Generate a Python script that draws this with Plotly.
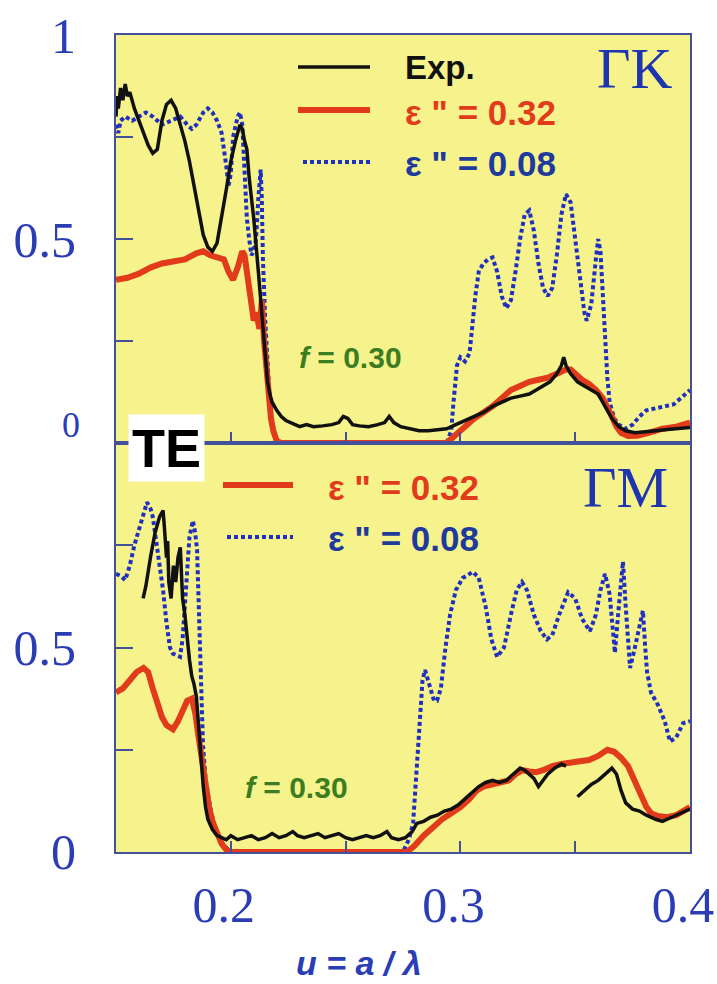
import plotly.graph_objects as go

# ---------------- data ----------------
# Panel ΓK (top)
gk_exp_x = [0.150, 0.1505, 0.151, 0.152, 0.153, 0.154, 0.155, 0.156, 0.158, 0.160, 0.162, 0.164,
            0.166, 0.168, 0.170, 0.172, 0.174, 0.176, 0.178, 0.180, 0.182, 0.184, 0.186, 0.188,
            0.190, 0.192, 0.194, 0.196, 0.198, 0.200, 0.202, 0.204, 0.205, 0.206, 0.207, 0.208,
            0.210, 0.212, 0.214, 0.215, 0.216, 0.217, 0.218, 0.220, 0.222, 0.224, 0.226, 0.228,
            0.230, 0.233, 0.236, 0.240, 0.244, 0.247, 0.249, 0.251, 0.253, 0.256, 0.260, 0.264,
            0.267, 0.269, 0.271, 0.274, 0.278, 0.282, 0.286, 0.290, 0.294, 0.298, 0.302, 0.306,
            0.310, 0.314, 0.318, 0.322, 0.326, 0.330, 0.333, 0.336, 0.339, 0.342, 0.344, 0.345,
            0.346, 0.348, 0.351, 0.354, 0.357, 0.360, 0.363, 0.366, 0.369, 0.372, 0.376, 0.380,
            0.385, 0.390, 0.395, 0.400]
gk_exp_y = [0.80, 0.85, 0.82, 0.87, 0.84, 0.88, 0.85, 0.86, 0.82, 0.79, 0.76, 0.73,
            0.71, 0.72, 0.79, 0.83, 0.84, 0.82, 0.78, 0.74, 0.69, 0.63, 0.57, 0.51,
            0.48, 0.47, 0.49, 0.55, 0.62, 0.69, 0.74, 0.78, 0.77, 0.74, 0.72, 0.65,
            0.55, 0.42, 0.28, 0.20, 0.15, 0.12, 0.10, 0.08, 0.065, 0.055, 0.05, 0.045,
            0.04, 0.045, 0.04, 0.042, 0.045, 0.05, 0.065, 0.06, 0.045, 0.042, 0.04, 0.045,
            0.05, 0.065, 0.05, 0.04, 0.035, 0.03, 0.03, 0.032, 0.035, 0.045, 0.055, 0.065,
            0.075, 0.09, 0.10, 0.11, 0.115, 0.12, 0.13, 0.14, 0.15, 0.17, 0.19, 0.21,
            0.19, 0.17, 0.15, 0.14, 0.13, 0.12, 0.09, 0.06, 0.04, 0.03, 0.025, 0.028,
            0.03, 0.033, 0.035, 0.038]

gk_hi_x = [0.150, 0.155, 0.160, 0.165, 0.170, 0.175, 0.180, 0.185, 0.188, 0.191, 0.194, 0.197,
           0.199, 0.201, 0.203, 0.205, 0.206, 0.207, 0.208, 0.209, 0.210, 0.211, 0.2125, 0.2135,
           0.2145, 0.2155, 0.2165, 0.2175, 0.2185, 0.220, 0.222, 0.294, 0.298, 0.302, 0.306,
           0.310, 0.314, 0.318, 0.322, 0.326, 0.330, 0.334, 0.338, 0.342, 0.346, 0.348, 0.350,
           0.353, 0.356, 0.359, 0.362, 0.364, 0.366, 0.368, 0.370, 0.373, 0.377, 0.382, 0.388,
           0.394, 0.400]
gk_hi_y = [0.40, 0.405, 0.415, 0.43, 0.44, 0.445, 0.45, 0.465, 0.47, 0.46, 0.455, 0.45,
           0.42, 0.40, 0.43, 0.47, 0.46, 0.41, 0.38, 0.34, 0.30, 0.32, 0.28, 0.35,
           0.25, 0.18, 0.11, 0.06, 0.03, 0.005, 0.0, 0.0, 0.02, 0.04, 0.06,
           0.075, 0.09, 0.11, 0.13, 0.14, 0.15, 0.155, 0.16, 0.17, 0.18, 0.18, 0.17,
           0.155, 0.145, 0.13, 0.11, 0.09, 0.065, 0.04, 0.025, 0.017, 0.018, 0.025, 0.035,
           0.04, 0.05]

gk_lo_x = [0.150, 0.151, 0.152, 0.154, 0.157, 0.160, 0.163, 0.166, 0.170, 0.174, 0.178, 0.181,
           0.183, 0.185, 0.188, 0.190, 0.192, 0.194, 0.196, 0.198, 0.199, 0.200, 0.201, 0.203,
           0.204, 0.205, 0.206, 0.207, 0.208, 0.209, 0.210, 0.211, 0.212, 0.213, 0.2135, 0.214,
           0.215, 0.216, 0.217, 0.218, 0.219, 0.220, 0.294, 0.296, 0.297, 0.2985, 0.300, 0.302,
           0.304, 0.305, 0.3065, 0.308, 0.310, 0.312, 0.314, 0.316, 0.318, 0.320, 0.322, 0.324,
           0.326, 0.328, 0.330, 0.332, 0.334, 0.336, 0.338, 0.340, 0.342, 0.344, 0.346, 0.348,
           0.350, 0.352, 0.354, 0.355, 0.357, 0.359, 0.360, 0.361, 0.362, 0.363, 0.364, 0.365,
           0.367, 0.369, 0.372, 0.375, 0.378, 0.381, 0.385, 0.389, 0.393, 0.396, 0.400]
gk_lo_y = [0.78, 0.76, 0.79, 0.80, 0.79, 0.80, 0.81, 0.80, 0.78, 0.79, 0.80, 0.78,
           0.77, 0.78, 0.81, 0.82, 0.81, 0.79, 0.76, 0.68, 0.63, 0.66, 0.75, 0.80,
           0.81, 0.78, 0.66, 0.55, 0.50, 0.46, 0.47, 0.50, 0.60, 0.67, 0.60, 0.45,
           0.30, 0.18, 0.10, 0.05, 0.02, 0.0, 0.0, 0.03, 0.10, 0.19, 0.21, 0.20,
           0.22, 0.28, 0.36, 0.42, 0.44, 0.45, 0.455, 0.42, 0.36, 0.33, 0.35, 0.42,
           0.50, 0.56, 0.57, 0.52, 0.44, 0.38, 0.36, 0.38, 0.46, 0.56, 0.61, 0.59,
           0.50, 0.40, 0.32, 0.30, 0.34, 0.45, 0.50, 0.47, 0.36, 0.25, 0.16, 0.10,
           0.06, 0.045, 0.035, 0.045, 0.065, 0.08, 0.085, 0.09, 0.095, 0.11, 0.13]

# Panel ΓM (bottom)
gm_exp_x = [0.1618, 0.163, 0.165, 0.167, 0.169, 0.1705, 0.171, 0.172, 0.1725, 0.173, 0.174, 0.175,
            0.176, 0.177, 0.178, 0.1785, 0.179, 0.180, 0.181, 0.182, 0.183, 0.184, 0.185, 0.186,
            0.187, 0.188, 0.189, 0.190, 0.192, 0.194, 0.196, 0.198, 0.200, 0.203, 0.206, 0.209,
            0.212, 0.215, 0.218, 0.221, 0.224, 0.227, 0.229, 0.232, 0.235, 0.238, 0.241, 0.244,
            0.247, 0.250, 0.253, 0.256, 0.259, 0.262, 0.265, 0.268, 0.270, 0.273, 0.276, 0.279,
            0.281, 0.284, 0.287, 0.290, 0.293, 0.296, 0.299, 0.302, 0.305, 0.308, 0.311, 0.314,
            0.317, 0.320, 0.323, 0.326, 0.328, 0.330, 0.332, 0.334, 0.336, 0.338, 0.341, 0.344,
            0.346, None, 0.351, 0.354, 0.357, 0.360, 0.363, 0.366, 0.368, 0.370, 0.372, 0.375,
            0.378, 0.381, 0.385, 0.388, 0.392, 0.396, 0.400]
gm_exp_y = [0.62, 0.65, 0.72, 0.78, 0.82, 0.835, 0.80, 0.72, 0.76, 0.66, 0.62, 0.70,
            0.66, 0.72, 0.745, 0.68, 0.62, 0.58, 0.52, 0.47, 0.43, 0.41, 0.38, 0.30,
            0.22, 0.16, 0.11, 0.08, 0.055, 0.04, 0.035, 0.03, 0.04, 0.03, 0.035, 0.04,
            0.03, 0.035, 0.045, 0.035, 0.04, 0.05, 0.04, 0.035, 0.04, 0.045, 0.035, 0.04,
            0.045, 0.035, 0.03, 0.035, 0.04, 0.035, 0.04, 0.05, 0.035, 0.03, 0.035, 0.05,
            0.07, 0.075, 0.085, 0.09, 0.10, 0.105, 0.115, 0.13, 0.145, 0.16, 0.17, 0.175,
            0.17, 0.175, 0.19, 0.205, 0.20, 0.19, 0.18, 0.16, 0.175, 0.19, 0.205, 0.215,
            0.21, None, 0.135, 0.15, 0.165, 0.175, 0.19, 0.205, 0.19, 0.15, 0.12, 0.105,
            0.10, 0.09, 0.08, 0.075, 0.085, 0.095, 0.105]

gm_hi_x = [0.150, 0.153, 0.156, 0.159, 0.162, 0.164, 0.166, 0.168, 0.170, 0.172, 0.1748, 0.177,
           0.179, 0.181, 0.183, 0.1845, 0.186, 0.1875, 0.189, 0.1905, 0.192, 0.194, 0.196, 0.198,
           0.200, 0.2767, 0.280, 0.284, 0.288, 0.292, 0.296, 0.300, 0.304, 0.307, 0.310, 0.314,
           0.318, 0.321, 0.324, 0.327, 0.330, 0.333, 0.336, 0.340, 0.344, 0.348, 0.352, 0.356,
           0.360, 0.364, 0.367, 0.370, 0.373, 0.375, 0.377, 0.379, 0.381, 0.383, 0.386, 0.390,
           0.394, 0.397, 0.400]
gm_hi_y = [0.39, 0.40, 0.42, 0.44, 0.45, 0.44, 0.40, 0.36, 0.33, 0.31, 0.30, 0.32,
           0.35, 0.37, 0.375, 0.34, 0.28, 0.22, 0.16, 0.11, 0.075, 0.045, 0.02, 0.006,
           0.0, 0.0, 0.015, 0.04, 0.06, 0.08, 0.095, 0.11, 0.13, 0.15, 0.16, 0.165,
           0.168, 0.175, 0.19, 0.20, 0.197, 0.195, 0.20, 0.21, 0.215, 0.22, 0.222, 0.225,
           0.235, 0.25, 0.245, 0.23, 0.21, 0.185, 0.16, 0.13, 0.11, 0.095, 0.088, 0.085,
           0.09, 0.10, 0.11]

gm_lo_x = [0.150, 0.152, 0.154, 0.156, 0.158, 0.160, 0.162, 0.1635, 0.165, 0.166, 0.168, 0.1705,
           0.172, 0.1735, 0.1748, 0.1765, 0.1779, 0.179, 0.180, 0.181, 0.182, 0.1835, 0.1845, 0.1853,
           0.186, 0.1866, 0.1872, 0.1879, 0.189, 0.191, 0.193, 0.1953, 0.198, 0.201, 0.275, 0.2775,
           0.2794, 0.2810, 0.2824, 0.2835, 0.2846, 0.2865, 0.2885, 0.2898, 0.2915, 0.2935, 0.2955, 0.298,
           0.301, 0.3055, 0.308, 0.311, 0.3135, 0.316, 0.319, 0.322, 0.3245, 0.3268, 0.329, 0.332,
           0.335, 0.3377, 0.340, 0.343, 0.3469, 0.350, 0.353, 0.3564, 0.359, 0.361, 0.363, 0.365,
           0.3673, 0.369, 0.3708, 0.372, 0.3739, 0.376, 0.3785, 0.3795, 0.3805, 0.3813, 0.383, 0.386,
           0.389, 0.3913, 0.394, 0.397, 0.400]
gm_lo_y = [0.68, 0.675, 0.665, 0.70, 0.75, 0.79, 0.83, 0.855, 0.84, 0.82, 0.74, 0.64,
           0.56, 0.50, 0.485, 0.48, 0.477, 0.52, 0.60, 0.70, 0.77, 0.81, 0.78, 0.74,
           0.60, 0.45, 0.35, 0.26, 0.18, 0.11, 0.06, 0.03, 0.01, 0.0, 0.0, 0.03,
           0.07, 0.20, 0.34, 0.42, 0.445, 0.41, 0.37, 0.37, 0.40, 0.50, 0.58, 0.64,
           0.67, 0.685, 0.67, 0.60, 0.52, 0.477, 0.50, 0.58, 0.64, 0.66, 0.64, 0.58,
           0.54, 0.52, 0.53, 0.58, 0.635, 0.62, 0.57, 0.54, 0.58, 0.64, 0.68, 0.63,
           0.487, 0.60, 0.71, 0.60, 0.45, 0.50, 0.56, 0.59, 0.50, 0.44, 0.39, 0.36,
           0.32, 0.27, 0.28, 0.315, 0.32]

x_tick_vals = [0.15, 0.20, 0.25, 0.30, 0.35, 0.40]
x_tick_text = ["", "0.2", "", "0.3", "", "0.4"]
y_tick_vals = [0, 0.25, 0.5, 0.75, 1.0]
top_y_tick_text = ["", "", "0.5", "", "1"]
bot_y_tick_text = ["0", "", "0.5", "", ""]

# ---------------- styling ----------------
W, H = 717, 984
ML, MR, MT, MB = 116, 27, 35, 132
PW, PH = W - ML - MR, H - MT - MB
SPLIT = 0.5006

RED = "#e23b1c"
BLUE = "#1f2fbf"
BLACK = "#111111"
AXIS_BLUE = "#2b3db5"
LINE_COL = "#45509a"
GREEN = "#3c7d22"
BG = "#f6f38d"
SERIF = "Liberation Serif, Times New Roman, serif"
SANS = "Liberation Sans, Arial, sans-serif"
DOTS = "4px,3px"


def px(xp):
    return (xp - ML) / PW


def py(yp):
    return (H - MB - yp) / PH


fig = go.Figure()

series = [
    (gk_lo_x, gk_lo_y, "x", "y", dict(color=BLUE, width=4, dash=DOTS)),
    (gk_hi_x, gk_hi_y, "x", "y", dict(color=RED, width=6)),
    (gk_exp_x, gk_exp_y, "x", "y", dict(color=BLACK, width=3.5)),
    (gm_lo_x, gm_lo_y, "x2", "y2", dict(color=BLUE, width=4, dash=DOTS)),
    (gm_hi_x, gm_hi_y, "x2", "y2", dict(color=RED, width=6)),
    (gm_exp_x, gm_exp_y, "x2", "y2", dict(color=BLACK, width=3.5)),
]
for xs, ys, xa, ya, ln in series:
    fig.add_trace(go.Scatter(x=xs, y=ys, xaxis=xa, yaxis=ya, mode="lines",
                             line=ln, showlegend=False, connectgaps=False,
                             hoverinfo="skip"))

axis_common = dict(range=[0.15, 0.40], showgrid=False, zeroline=False, automargin=False,
                   showline=True, linecolor=LINE_COL, linewidth=2, mirror=True,
                   ticks="inside", ticklen=11, tickwidth=2, tickcolor=LINE_COL,
                   tickvals=x_tick_vals)
yaxis_common = dict(range=[0, 1], showgrid=False, zeroline=False, automargin=False,
                    showline=True, linecolor=LINE_COL, linewidth=2, mirror=True,
                    ticks="inside", ticklen=17, tickwidth=2, tickcolor=LINE_COL,
                    tickvals=y_tick_vals,
                    tickfont=dict(family=SERIF, size=50, color=AXIS_BLUE),
                    ticklabelstandoff=28)

fig.update_layout(
    width=W, height=H,
    margin=dict(l=ML, r=MR, t=MT, b=MB),
    paper_bgcolor="white", plot_bgcolor=BG,
    xaxis=dict(axis_common, domain=[0, 1], anchor="y", showticklabels=False),
    yaxis=dict(yaxis_common, domain=[SPLIT, 1], anchor="x", ticktext=top_y_tick_text),
    xaxis2=dict(axis_common, domain=[0, 1], anchor="y2", matches="x",
                ticktext=x_tick_text, showticklabels=True,
                tickfont=dict(family=SERIF, size=50, color=AXIS_BLUE),
                ticklabelstandoff=8, ticklabelshift=-7),
    yaxis2=dict(yaxis_common, domain=[0, SPLIT], anchor="x2", ticktext=bot_y_tick_text),
)

# legend keys
shapes = []
for x0, x1, yy, col, dash, wd in [
    (298, 370, 67, BLACK, "solid", 3.5),
    (298, 370, 110, RED, "solid", 6),
    (303, 370, 162, BLUE, DOTS, 4),
    (223, 293, 485, RED, "solid", 6),
    (227, 293, 537, BLUE, DOTS, 4),
]:
    shapes.append(dict(type="line", xref="paper", yref="paper",
                       x0=px(x0), x1=px(x1), y0=py(yy), y1=py(yy),
                       line=dict(color=col, width=wd, dash=dash)))
fig.update_layout(shapes=shapes)

notes = [
    (403, 67, "<b>Exp.</b>", BLACK, SANS, 33, "left"),
    (403, 112, "<b>ε \" = 0.32</b>", RED, SANS, 35, "left"),
    (403, 163, "<b>ε \" = 0.08</b>", "#1e3a9c", SANS, 35, "left"),
    (326, 487, "<b>ε \" = 0.32</b>", RED, SANS, 35, "left"),
    (326, 538, "<b>ε \" = 0.08</b>", "#1e3a9c", SANS, 35, "left"),
    (635, 68, "ΓK", "#1f35b0", SERIF, 58, "center"),
    (625, 487, "ΓM", "#1f35b0", SERIF, 58, "center"),
    (297, 357, "<b><i>f</i> = 0.30</b>", GREEN, SANS, 30, "left"),
    (243, 787, "<b><i>f</i> = 0.30</b>", GREEN, SANS, 30, "left"),
    (82, 425, "0", AXIS_BLUE, SERIF, 36, "right"),
    (359, 963, "<b><i>u = a / λ</i></b>", AXIS_BLUE, SANS, 34, "center"),
]
for xp, yp, txt, col, fam, sz, anc in notes:
    fig.add_annotation(x=px(xp), y=py(yp), xref="paper", yref="paper",
                       text=txt, showarrow=False, xanchor=anc, yanchor="middle",
                       font=dict(family=fam, size=sz, color=col))

# polarisation tag on the panel boundary
fig.add_annotation(x=px(166), y=py(448), xref="paper", yref="paper",
                   text="<b>TE</b>", showarrow=False, xanchor="center", yanchor="middle",
                   bgcolor="white", borderpad=3,
                   font=dict(family=SANS, size=54, color="black"))

fig.write_html("out.html")
